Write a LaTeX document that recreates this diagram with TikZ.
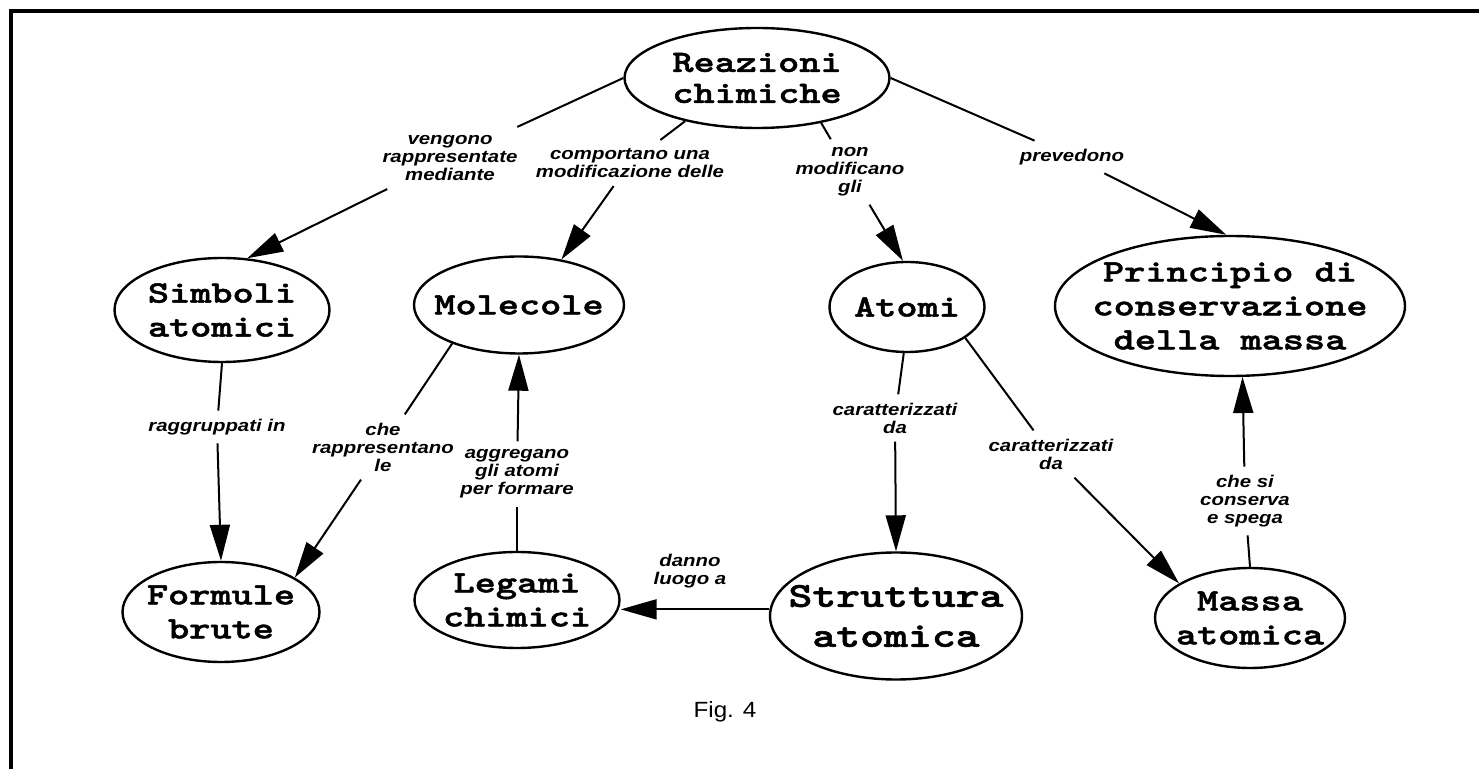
\documentclass[tikz,border=0pt]{standalone}
\usepackage{fontspec}
\setmainfont{Liberation Sans}
\newfontfamily\nodefont{lmmonolt10-bold.otf}[FakeStretch=1.3, FakeBold=1.6]
\newfontfamily\labfont{Liberation Sans}[FakeStretch=1.2]
\newfontfamily\capfont{Liberation Sans}[FakeStretch=1.1]
\usetikzlibrary{shapes.geometric,arrows.meta}
\tikzset{
  ell/.style={ellipse, draw, line width=1.2pt, inner sep=0pt},
  ntext/.style={font=\nodefont\fontsize{15.5}{17}\selectfont, align=center, inner sep=0pt},
  toptext/.style={font=\nodefont\fontsize{15.5}{15.5}\selectfont, align=center, inner sep=0pt},
  bigtext/.style={font=\nodefont\fontsize{17.5}{20}\selectfont, align=center, inner sep=0pt},
  lab/.style={font=\labfont\bfseries\itshape\fontsize{8.5}{9}\selectfont, align=center, inner sep=4pt},
  con/.style={line width=1pt},
  arr/.style={con, -{Triangle[length=18pt,width=10pt]}},
  frame/.style={line width=2pt}
}
\begin{document}
\begin{tikzpicture}[x=0.5pt,y=-0.5pt]
\fill[white] (0,0) rectangle (1479,769);
\useasboundingbox (0,0) rectangle (1479,769);
% frame
\coordinate (fbl) at (11,769);
\coordinate (ftl) at (11,11);
\coordinate (ftr) at (1479,11);
\draw[frame] (fbl) -- (ftl) -- (ftr);

% concept ellipses
\node[ell, minimum width=132.5pt, minimum height=50pt] (reaz) at (757,78) {};
\node[toptext] (reaz-t) at (reaz) {Reazioni\\chimiche};
\node[ell, minimum width=107.5pt, minimum height=52pt] (simb) at (222,310) {};
\node[ntext] (simb-t) at (simb) {Simboli\\atomici};
\node[ell, minimum width=105pt, minimum height=48.5pt] (mol) at (519,305) {};
\node[ntext] (mol-t) at (mol) {Molecole};
\node[ell, minimum width=77.5pt, minimum height=45pt] (atomi) at (907,307) {};
\node[ntext] (atomi-t) at (atomi) {Atomi};
\node[ell, minimum width=175pt, minimum height=70pt] (prin) at (1230,306) {};
\node[ntext] (prin-t) at (prin) {Principio di\\conservazione\\della massa};
\node[ell, minimum width=98.5pt, minimum height=50pt] (form) at (221,612) {};
\node[ntext] (form-t) at (form) {Formule\\brute};
\node[ell, minimum width=102.5pt, minimum height=48pt] (leg) at (517,600) {};
\node[ntext] (leg-t) at (leg) {Legami\\chimici};
\node[ell, minimum width=126pt, minimum height=63.5pt] (strut) at (896,616) {};
\node[bigtext] (strut-t) at (strut) {Struttura\\atomica};
\node[ell, minimum width=95pt, minimum height=50pt] (massa) at (1250,618) {};
\node[ntext] (massa-t) at (massa) {Massa\\atomica};

% linking phrases
\node[lab] (l1) at (450,158) {vengono\\rappresentate\\mediante};
\node[lab] (l2) at (630,163) {comportano una\\modificazione delle};
\node[lab] (l3) at (850,172) {non\\modificano\\gli};
\node[lab] (l4) at (1072,157) {prevedono};
\node[lab] (l5) at (217,427) {raggruppati in};
\node[lab] (l6) at (383,447) {che\\rappresentano\\le};
\node[lab] (l7) at (517,474) {aggregano\\gli atomi\\per formare};
\node[lab] (l8) at (895,418) {caratterizzati\\da};
\node[lab] (l9) at (1051,454) {caratterizzati\\da};
\node[lab] (l10) at (1245,501) {che si\\conserva\\e spega};
\node[lab] (l11) at (690,571) {danno\\luogo a};
\node[font=\capfont\fontsize{11}{12}\selectfont, inner sep=0pt] (fig) at (725,712) {Fig. 4};

% connectors
\draw[con] (reaz.west) -- (l1);
\draw[arr] (l1) -- (simb.64);
\draw[con] (reaz.211) -- (l2);
\draw[arr] (l2) -- (mol.47);
\draw[con] (reaz.325) -- (l3);
\draw[arr] (l3) -- (atomi.95);
\draw[con] (reaz.east) -- (l4);
\draw[arr] (l4) -- (prin.93);
\draw[con] (simb.south) -- (l5);
\draw[arr] (l5) -- (form.north);
\draw[con] (mol.210) -- (l6);
\draw[arr] (l6) -- (form.25);
\draw[con] (leg.north) -- (l7);
\draw[arr] (l7) -- (mol.south);
\draw[con] (atomi.266) -- (l8);
\draw[arr] (l8) -- (strut.north);
\draw[con] (atomi.-28) -- (l9);
\draw[arr] (l9) -- (massa.154);
\draw[con] (massa.north) -- (l10);
\draw[arr] (l10) -- (prin.-80);
\draw[arr] (strut.177) -- (strut.177 -| leg.east);
\end{tikzpicture}
\end{document}
